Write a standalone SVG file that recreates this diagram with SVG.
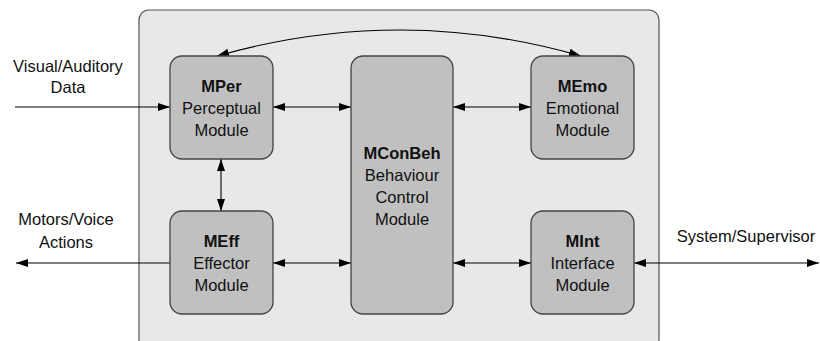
<svg xmlns="http://www.w3.org/2000/svg" width="820" height="341" viewBox="0 0 820 341">
  <style>
    .frame { fill: #e8e8e8; stroke: #555555; stroke-width: 1.2; }
    .mod { fill: #c0c0c0; stroke: #444444; stroke-width: 1.3; }
    text { font-family: "Liberation Sans", Arial, sans-serif; font-size: 16.5px; fill: #111111; text-anchor: middle; }
    .b { font-weight: bold; }
    .wire { fill: none; stroke: #000000; stroke-width: 1.1; }
  </style>
  <defs>
    <marker id="ah" viewBox="0 0 12 8" refX="12" refY="4" markerWidth="12" markerHeight="8" markerUnits="userSpaceOnUse" orient="auto-start-reverse">
      <path d="M0,0 L12,4 L0,8 Z" fill="#000000"/>
    </marker>
  </defs>

  <!-- system boundary -->
  <rect class="frame" x="139" y="10" width="520" height="340" rx="10"/>

  <!-- connectors -->
  <g id="connectors">
    <line class="wire" x1="15" y1="107" x2="170" y2="107" marker-end="url(#ah)"/>
    <line class="wire" x1="273" y1="107" x2="351" y2="107" marker-start="url(#ah)" marker-end="url(#ah)"/>
    <line class="wire" x1="453" y1="107" x2="531" y2="107" marker-start="url(#ah)" marker-end="url(#ah)"/>
    <line class="wire" x1="221" y1="159" x2="221" y2="211" marker-start="url(#ah)" marker-end="url(#ah)"/>
    <line class="wire" x1="170" y1="263" x2="16" y2="263" marker-end="url(#ah)"/>
    <line class="wire" x1="273" y1="263" x2="351" y2="263" marker-start="url(#ah)" marker-end="url(#ah)"/>
    <line class="wire" x1="453" y1="263" x2="531" y2="263" marker-start="url(#ah)" marker-end="url(#ah)"/>
    <line class="wire" x1="634" y1="263" x2="819" y2="263" marker-start="url(#ah)" marker-end="url(#ah)"/>
    <path class="wire" d="M217,56 Q400,4 581,56" marker-start="url(#ah)" marker-end="url(#ah)"/>
  </g>

  <!-- external labels -->
  <text x="68" y="72">Visual/Auditory</text>
  <text x="68" y="93">Data</text>
  <text x="66" y="225">Motors/Voice</text>
  <text x="66" y="248">Actions</text>
  <text x="746" y="242">System/Supervisor</text>

  <g id="mper">
    <rect class="mod" x="170" y="56" width="103" height="103" rx="12"/>
    <text class="b" x="221.5" y="92">MPer</text>
    <text x="221.5" y="114">Perceptual</text>
    <text x="221.5" y="136">Module</text>
  </g>

  <g id="mconbeh">
    <rect class="mod" x="351" y="56" width="102" height="258" rx="12"/>
    <text class="b" x="402" y="159">MConBeh</text>
    <text x="402" y="181">Behaviour</text>
    <text x="402" y="203">Control</text>
    <text x="402" y="225">Module</text>
  </g>

  <g id="memo">
    <rect class="mod" x="531" y="56" width="103" height="103" rx="12"/>
    <text class="b" x="582.5" y="92">MEmo</text>
    <text x="582.5" y="114">Emotional</text>
    <text x="582.5" y="136">Module</text>
  </g>

  <g id="meff">
    <rect class="mod" x="170" y="211" width="103" height="103" rx="12"/>
    <text class="b" x="221.5" y="247">MEff</text>
    <text x="221.5" y="269">Effector</text>
    <text x="221.5" y="291">Module</text>
  </g>

  <g id="mint">
    <rect class="mod" x="531" y="211" width="103" height="103" rx="12"/>
    <text class="b" x="582.5" y="247">MInt</text>
    <text x="582.5" y="269">Interface</text>
    <text x="582.5" y="291">Module</text>
  </g>
</svg>
